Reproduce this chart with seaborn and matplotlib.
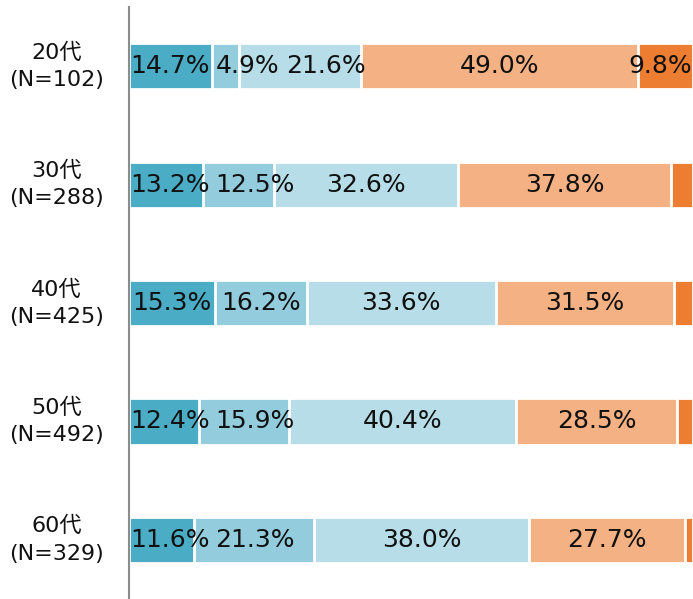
import numpy as np
import pandas as pd
import matplotlib
matplotlib.use("Agg")
import matplotlib.pyplot as plt
import seaborn as sns

# data
groups = ["20代\n(N=102)", "30代\n(N=288)", "40代\n(N=425)", "50代\n(N=492)", "60代\n(N=329)"]
seg1 = [14.7, 13.2, 15.3, 12.4, 11.6]
seg2 = [4.9, 12.5, 16.2, 15.9, 21.3]
seg3 = [21.6, 32.6, 33.6, 40.4, 38.0]
seg4 = [49.0, 37.8, 31.5, 28.5, 27.7]
seg5 = [9.8, 3.9, 3.4, 2.8, 1.4]
colors = ["#4BACC6", "#93CDDD", "#B7DEE8", "#F4B183", "#ED7D31"]

sns.set_theme(style="white")
plt.rcParams["font.family"] = ["DejaVu Sans", "Noto Sans CJK JP"]

segs = [seg1, seg2, seg3, seg4, seg5]
cum = np.cumsum(np.array(segs), axis=0)

fig = plt.figure(figsize=(6.93, 5.99), dpi=100)
ax = fig.add_axes([0.186, 0.0, 0.814, 0.988])

# draw cumulative bars from the longest to the shortest so they stack
for i in range(len(segs) - 1, -1, -1):
    df = pd.DataFrame({"group": groups, "value": cum[i]})
    sns.barplot(data=df, x="value", y="group", color=colors[i], orient="h",
                width=0.39, edgecolor="white", linewidth=2, saturation=1, ax=ax)

ax.set_xlim(0, 100)
ax.set_ylim(4.5, -0.5)
ax.set_xlabel("")
ax.set_ylabel("")
ax.set_xticks([])
ax.set_yticks(range(len(groups)))
ax.set_yticklabels([])
ax.tick_params(axis="y", length=0)
for side in ["top", "right", "bottom"]:
    ax.spines[side].set_visible(False)
ax.spines["left"].set_color("#8c8c8c")
ax.spines["left"].set_linewidth(1.5)

# category labels centred left of the axis
trans = ax.get_yaxis_transform()
for j, g in enumerate(groups):
    ax.text(-0.128, j, g, transform=trans, ha="center", va="center",
            fontsize=16, linespacing=1.45, color="#111111", clip_on=False)

# percentage labels, kept inside the plot and nudged right on overlap
fig.canvas.draw()
renderer = fig.canvas.get_renderer()
inv = ax.transData.inverted()
ax_bb = ax.get_window_extent(renderer)


def shift_text(t, dx):
    px = ax.transData.transform((t.get_position()[0], 0))
    t.set_x(inv.transform((px[0] + dx, px[1]))[0])
    return t.get_window_extent(renderer)


for j in range(len(groups)):
    prev_right = None
    for i, s in enumerate(segs):
        v = s[j]
        if v < 4:
            continue
        xc = cum[i][j] - v / 2
        t = ax.text(xc, j, f"{v:.1f}%", ha="center", va="center",
                    fontsize=18, color="#111111")
        bb = t.get_window_extent(renderer)
        if bb.x0 < ax_bb.x0 + 1:
            bb = shift_text(t, ax_bb.x0 + 1 - bb.x0)
        if prev_right is not None and bb.x0 < prev_right + 6:
            bb = shift_text(t, prev_right + 6 - bb.x0)
        if bb.x1 > ax_bb.x1 - 1:
            bb = shift_text(t, ax_bb.x1 - 1 - bb.x1)
        prev_right = bb.x1

fig.savefig("out.png", dpi=100)
